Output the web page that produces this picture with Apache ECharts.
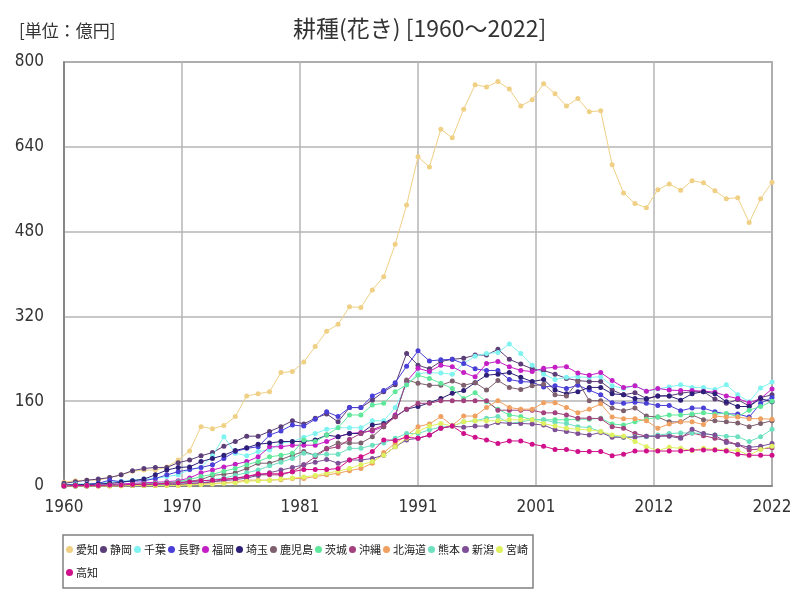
<!DOCTYPE html>
<html><head><meta charset="utf-8">
<script src="https://cdn.jsdelivr.net/npm/echarts@6/dist/echarts.min.js"></script>
<style>html,body{margin:0;padding:0;background:#fff}#c{width:800px;height:600px}</style>
</head><body><div id="c"></div>
<script>
const years = [];
for (let y = 1960; y <= 2022; y++) years.push(y);
const titleText = '耕種(花き) [1960〜2022]';
const unitText = '[単位：億円]';
const yTicks = [0, 160, 320, 480, 640, 800];

const names = ['愛知','静岡','千葉','長野','福岡','埼玉','鹿児島','茨城','沖縄','北海道','熊本','新潟','宮崎','高知'];
const colors = ['#efd085','#5b3d78','#7ff3f0','#4a3fd6','#c41fc4','#2e1f78','#7d5f6e','#5fe89c','#a3407e','#f0a060','#6de0c0','#7e4f96','#dff060','#d0108a'];

const aichi = [7,10,11,11,16,21,28,30,30,36,49,66,112,108,114,131,170,174,178,214,216,234,263,292,305,338,337,370,395,456,530,621,602,673,657,711,757,753,763,749,717,729,759,740,717,731,706,708,606,553,533,525,559,570,558,576,572,557,542,544,497,542,573];
const shizuoka = [5,8,11,13,16,21,29,33,35,35,44,49,57,63,75,84,94,94,103,112,123,117,128,136,121,148,148,162,178,191,250,228,221,235,239,241,247,247,258,239,230,221,218,211,203,199,197,197,181,172,176,165,170,170,175,178,178,164,156,163,151,167,172];
const chiba = [2,4,4,5,8,9,11,13,14,18,21,31,35,57,93,62,57,65,68,81,84,92,99,107,110,110,110,123,123,148,191,212,214,213,211,231,245,250,252,268,250,228,211,201,205,206,205,206,189,184,189,179,183,187,191,186,186,182,191,172,159,185,196];
const nagano = [1,2,3,5,11,8,9,10,14,21,27,31,35,40,52,65,71,74,96,104,115,113,126,140,131,148,148,170,180,195,226,255,236,238,239,231,221,218,218,201,197,196,187,189,184,190,181,172,157,156,158,156,152,152,142,147,147,140,136,136,130,156,167];
const fukuoka = [1,1,2,2,3,4,5,6,7,8,10,15,25,30,36,41,46,55,74,74,77,77,77,84,93,99,101,104,112,134,197,222,216,228,225,214,206,231,235,225,218,216,222,224,225,213,209,214,199,186,189,179,184,181,180,180,179,177,170,165,157,165,183];
const saitama = [2,2,3,4,5,7,10,13,21,30,35,36,46,52,58,67,72,79,81,84,84,84,87,96,93,99,99,115,118,131,145,150,157,165,175,180,195,209,211,214,205,197,201,181,174,178,186,186,174,172,165,164,170,170,162,174,178,174,159,150,150,165,159];
const kagoshima = [0,1,1,1,2,2,3,4,4,5,6,9,12,20,22,25,33,43,43,50,58,65,58,71,81,81,81,93,112,131,200,194,190,190,198,190,195,181,199,186,182,189,192,172,170,197,161,161,147,142,147,132,130,121,121,134,125,123,121,119,112,118,123];
const ibaraki = [0,1,1,1,2,2,3,4,5,6,8,12,18,22,28,33,40,46,55,58,62,87,84,96,110,134,134,153,156,178,191,209,203,194,184,165,176,159,145,134,131,125,125,125,125,126,126,128,117,115,121,126,130,134,134,136,138,136,137,131,143,150,160];
const okinawa = [0,0,0,0,1,1,1,1,2,2,2,4,6,8,12,15,18,21,21,21,27,40,55,70,74,88,99,106,115,130,145,156,156,161,161,161,161,161,143,143,143,143,138,138,134,128,128,127,112,109,99,94,94,96,92,100,95,90,85,78,68,70,72];
const hokkaido = [0,0,0,0,0,1,1,1,1,2,2,3,4,5,6,8,11,11,11,12,14,14,18,21,24,29,33,43,63,81,95,112,117,131,114,132,132,148,161,148,145,145,157,157,148,138,145,155,130,127,127,123,109,117,121,121,116,132,130,130,127,127,126];
const kumamoto = [0,0,1,1,1,2,2,3,3,4,5,7,9,12,15,20,25,30,38,45,52,62,58,60,60,71,71,77,81,90,99,99,106,111,113,121,123,128,131,118,121,125,125,120,118,112,110,103,94,92,93,93,96,99,100,100,99,96,94,93,84,93,107];
const niigata = [0,0,0,1,1,1,1,2,2,2,3,5,6,8,10,12,15,20,25,30,35,40,45,50,43,49,49,52,58,74,87,90,96,109,113,111,113,113,120,118,118,117,115,106,103,99,96,101,92,92,92,94,94,94,90,107,99,96,82,78,73,75,80];
const miyazaki = [0,0,0,0,0,0,1,1,1,1,1,2,3,4,5,6,9,10,11,13,15,17,20,24,28,33,40,46,58,74,90,103,113,118,113,121,123,123,123,125,125,125,118,113,109,107,106,103,96,94,84,74,67,73,71,67,71,69,68,67,58,69,75];
const kochi = [0,1,1,1,2,2,3,3,4,5,6,8,10,11,13,14,18,23,23,23,27,31,31,31,33,49,55,65,87,86,92,90,96,109,113,99,92,87,80,85,85,79,75,69,69,65,65,65,57,60,66,66,66,66,66,68,68,68,66,60,58,58,58];

const seriesValues = [aichi,shizuoka,chiba,nagano,fukuoka,saitama,kagoshima,ibaraki,okinawa,hokkaido,kumamoto,niigata,miyazaki,kochi];

const chart = echarts.init(document.getElementById('c'), null, {renderer:'canvas'});
const labelFont = "'Liberation Sans Narrow','DejaVu Sans Condensed',sans-serif";
const cjkFont = "'Noto Sans CJK JP',sans-serif";
chart.setOption({
  animation: false,
  backgroundColor: '#fff',
  title: [
    {text: titleText, left: 288, top: 12, textStyle: {fontSize: 23, fontWeight: 'normal', color: '#333', fontFamily: cjkFont}},
    {text: unitText, left: 14, top: 17, textStyle: {fontSize: 17, fontWeight: 'normal', color: '#333', fontFamily: cjkFont}}
  ],
  legend: {
    left: 63, top: 535, width: 475,
    orient: 'horizontal',
    icon: 'circle', itemWidth: 7, itemHeight: 7, itemGap: 0,
    padding: [3, 3, 4, 3],
    borderColor: '#808080', borderWidth: 1.5,
    textStyle: {fontSize: 11, color: '#222', fontFamily: cjkFont, lineHeight: 23, padding: [0, 2, 0, -2]},
    data: names
  },
  grid: {left: 64, right: 28, top: 62, bottom: 114, show: true, borderColor: '#7a7a7a', borderWidth: 1.5, containLabel: false},
  xAxis: {
    type: 'value', min: 0, max: 62, interval: 62/6,
    axisLine: {show: true, lineStyle: {color: '#7a7a7a', width: 1.5}},
    axisTick: {show: false},
    splitLine: {show: true, lineStyle: {color: '#b4b4b4', width: 1.5}},
    axisLabel: {margin: 13, fontSize: 17, color: '#333', fontFamily: labelFont,
      formatter: v => String(Math.round(years[0] + v))}
  },
  yAxis: {
    type: 'value', min: yTicks[0], max: yTicks[yTicks.length-1], interval: yTicks[1]-yTicks[0],
    axisLine: {show: true, lineStyle: {color: '#7a7a7a', width: 1.5}},
    axisTick: {show: false},
    splitLine: {show: true, lineStyle: {color: '#b4b4b4', width: 1.5}},
    axisLabel: {margin: 20, fontSize: 17, color: '#333', fontFamily: labelFont}
  },
  series: names.map((n, k) => ({
    name: n, type: 'line',
    data: years.map((y, i) => [y - years[0], seriesValues[k][i]]),
    symbol: 'circle', symbolSize: 5, showSymbol: true,
    itemStyle: {color: colors[k]},
    lineStyle: {color: colors[k], width: 1},
    emphasis: {disabled: true}
  }))
});
</script></body></html>
